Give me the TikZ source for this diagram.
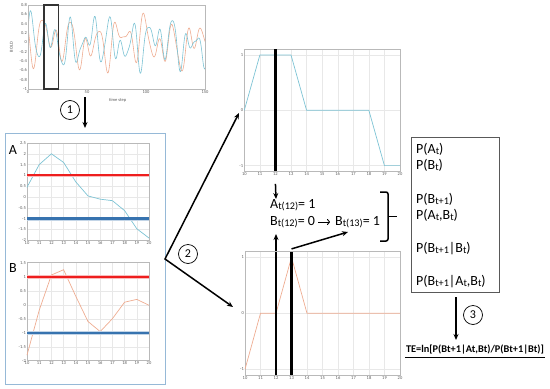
\documentclass[tikz,border=0pt]{standalone}
\usepackage{fontspec}
\setmainfont{Carlito}
\usepackage{tikz}
\usetikzlibrary{arrows.meta,calc}
\definecolor{seriescyan}{RGB}{125,195,212}
\definecolor{seriessalmon}{RGB}{238,172,145}
\definecolor{panelblue}{RGB}{150,185,215}
\definecolor{threshred}{RGB}{238,30,30}
\definecolor{threshblue}{RGB}{55,115,175}
\newcommand{\sm}[1]{\raisebox{-0.9pt}{\fontsize{10.2}{10}\selectfont #1}}

\begin{document}
\begin{tikzpicture}[x=1pt,y=-1pt,every node/.style={font=\fontsize{14}{16}\selectfont},
  arr/.style={-{Stealth[length=6pt,width=5pt]},line width=1.5pt},
  numcirc/.style={circle,draw,line width=0.7pt,minimum size=19pt,inner sep=0pt,font=\fontsize{12}{12}\selectfont},
  frame/.style={draw=gray!55,line width=0.5pt},
  gridln/.style={draw=gray!18,line width=0.4pt},
  tick/.style={font=\fontsize{4.5}{5}\selectfont,text=gray!70!black,inner sep=1pt},
  marker/.style={line width=2.6pt},
  redthr/.style={threshred,line width=2pt,preaction={draw=threshred!30,line width=3.8pt}},
  bluethr/.style={threshblue,line width=2.4pt,preaction={draw=threshblue!30,line width=4pt}}]
\useasboundingbox (0,0) rectangle (550,389);

% BOLD series
\begin{scope}[shift={(28,42.3)},x=1.18pt,y=46.67pt]
  \begin{scope}
    \clip (0,-1) rectangle (150,0.8);
    \draw[seriessalmon,line width=0.6pt] plot[domain=0:150,samples=400]
      (\x,{0.3*sin(29*\x+120)+0.25*sin(17*\x+200)+0.1*sin(45*\x+80)+0.12*sin(5*\x+10)});
    \draw[seriescyan,line width=0.6pt] plot[domain=0:150,samples=400]
      (\x,{0.3*sin(33*\x)+0.25*sin(21*\x+50)+0.1*sin(52*\x+20)+0.1*sin(7*\x+30)});
  \end{scope}
  \draw[frame] (0,-1) rectangle (150,0.8);
  \foreach \v [count=\i] in {0.8,0.6,0.4,0.2,0,-0.2,-0.4,-0.6,-0.8,-1}
    \node[tick,anchor=east] (boldy\i) at (0,\v) {\v};
  \foreach \t [count=\i] in {0,50,100,150}
    \node[tick,anchor=north] (boldx\i) at (\t,-1) {\t};
  \node[tick,rotate=90] (boldlab) at (-14,-0.1) {BOLD};
  \node[tick] (steplab) at (76,-1.25) {time step};
  \draw[black!80,line width=1.2pt] (13.5,-1) rectangle (26,0.8);
\end{scope}

\node[numcirc] (n1) at (70,110) {1};
\coordinate (a1s) at (85,97);
\coordinate (a1e) at (85,128);
\draw[arr] (a1s) -- (a1e);

% panel with A and B
\node[draw=panelblue,line width=1pt,minimum width=160pt,minimum height=251pt,anchor=north west,inner sep=0pt] (panel) at (5,133) {};
\node (labA) at (13,150) {A};
\node (labB) at (13,268) {B};

\begin{scope}[shift={(27,197)},x=12.2pt,y=21.6pt]
  \foreach \t in {1,...,9} \draw[gridln] (\t,-2) -- (\t,2.5);
  \foreach \v in {-1.5,-1,-0.5,0,0.5,1,1.5,2} \draw[gridln] (0,\v) -- (10,\v);
  \draw[frame] (0,-2) rectangle (10,2.5);
  \foreach \v [count=\i] in {2.5,2,1.5,1,0.5,0,-0.5,-1,-1.5,-2}
    \node[tick,anchor=east] (ay\i) at (0,\v) {\v};
  \foreach \t [count=\i] in {10,...,20}
    \node[tick,anchor=north] (ax\i) at (\t-10,-2) {\t};
  \draw[seriescyan,line width=0.7pt] (0,0.45) -- (1,1.5) -- (2,2) -- (3,1.6) -- (4,0.7) -- (5,0.05)
    -- (6,-0.1) -- (7,-0.17) -- (8,-0.63) -- (9,-1.47) -- (10,-1.9);
  \draw[redthr] (0,1) -- (10,1);
  \draw[bluethr] (0,-1) -- (10,-1);
\end{scope}

\begin{scope}[shift={(27,304.7)},x=12.2pt,y=28pt]
  \foreach \t in {1,...,9} \draw[gridln] (\t,-2) -- (\t,1.5);
  \foreach \v in {-1.5,-1,-0.5,0,0.5,1} \draw[gridln] (0,\v) -- (10,\v);
  \draw[frame] (0,-2) rectangle (10,1.5);
  \foreach \v [count=\i] in {1.5,1,0.5,0,-0.5,-1,-1.5,-2}
    \node[tick,anchor=east] (by\i) at (0,\v) {\v};
  \foreach \t [count=\i] in {10,...,20}
    \node[tick,anchor=north] (bx\i) at (\t-10,-2) {\t};
  \draw[seriessalmon,line width=0.7pt] (0,-1.8) -- (1,-0.2) -- (2,1.06) -- (3,1.25) -- (4,0.3) -- (5,-0.6)
    -- (6,-0.96) -- (7,-0.5) -- (8,0.09) -- (9,0.19) -- (10,-0.02);
  \draw[redthr] (0,1) -- (10,1);
  \draw[bluethr] (0,-1) -- (10,-1);
\end{scope}

% binarised series
\begin{scope}[shift={(244.3,110.3)},x=15.57pt,y=55.3pt]
  \foreach \t in {1,...,9} \draw[gridln] (\t,-1.1) -- (\t,1.1);
  \foreach \v in {-1,0,1} \draw[gridln] (0,\v) -- (10,\v);
  \draw[frame] (0,-1.1) rectangle (10,1.1);
  \foreach \v [count=\i] in {1,0,-1}
    \node[tick,anchor=east] (uy\i) at (0,\v) {\v};
  \foreach \t [count=\i] in {10,...,20}
    \node[tick,anchor=north] (ux\i) at (\t-10,-1.1) {\t};
  \draw[seriescyan,line width=0.7pt] (0,0) -- (1,1) -- (3,1) -- (4,0) -- (8,0) -- (9,-1) -- (10,-1);
  \draw[marker] (2,-1.1) -- (2,1.1);
  \coordinate (selA) at (2,-1.33);
\end{scope}

\begin{scope}[shift={(245,313.3)},x=15.5pt,y=56pt]
  \foreach \t in {1,...,9} \draw[gridln] (\t,-1.1) -- (\t,1.1);
  \foreach \v in {-1,0,1} \draw[gridln] (0,\v) -- (10,\v);
  \draw[frame] (0,-1.1) rectangle (10,1.1);
  \foreach \v [count=\i] in {1,0,-1}
    \node[tick,anchor=east] (ly\i) at (0,\v) {\v};
  \foreach \t [count=\i] in {10,...,20}
    \node[tick,anchor=north] (lx\i) at (\t-10,-1.1) {\t};
  \draw[seriessalmon,line width=0.7pt] (0,-1) -- (1,0) -- (2,0) -- (3,1) -- (4,0) -- (10,0);
  \draw[marker] (2,-1.1) -- (2,1.1);
  \draw[marker] (3,-1.1) -- (3,1.1);
  \coordinate (selB) at (2,1.12);
  \coordinate (selBn) at (3,1.15);
\end{scope}

% split arrows
\node[numcirc] (n2) at (188,254) {2};
\coordinate (fork) at (165,259);
\coordinate (topin) at (239,113);
\coordinate (botin) at (233,307);
\draw[arr,{Stealth[length=6pt,width=5pt]}-{Stealth[length=6pt,width=5pt]},line join=miter] (topin) -- (fork) -- (botin);

% states
\node[anchor=west,inner sep=1pt] (at12) at (269,205) {A\sm{t(12)}= 1};
\node[anchor=west,inner sep=1pt] (bt12) at (269,222) {B\sm{t(12)}= 0};
\node[anchor=west,inner sep=1pt] (bt13) at (334,222) {B\sm{t(13)}= 1};
\draw[-{To[length=3pt,width=6pt]},line width=0.9pt,shorten <=2pt,shorten >=4pt] (bt12) -- (bt13);
\coordinate (tipA) at (276,199);
\coordinate (tipB) at (276,234);
\coordinate (tipBn) at (348,232);
\draw[arr] (selA) -- (tipA);
\draw[arr] (selB) -- (tipB);
\draw[arr] (selBn) -- (tipBn);
\draw[line width=1.5pt,rounded corners=2pt] (380,192) -- (388,192) -- (388,241) -- (380,241);
\draw[line width=1.5pt] (388,216.5) -- (397,216.5);

% probabilities
\node[draw=gray!70!black,line width=0.7pt,minimum width=88.5pt,minimum height=155pt,anchor=north west,inner sep=0pt] (pbox) at (410.5,137.3) {};
\node[anchor=west,inner sep=0pt] (pa) at (416,149.5) {P(A\sm{t})};
\node[anchor=west,inner sep=0pt] (pb) at (416,165) {P(B\sm{t})};
\node[anchor=west,inner sep=0pt] (pbn) at (416,199.5) {P(B\sm{t+1})};
\node[anchor=west,inner sep=0pt] (pab) at (416,215) {P(A\sm{t},B\sm{t})};
\node[anchor=west,inner sep=0pt] (pcb) at (416,248.5) {P(B\sm{t+1}|B\sm{t})};
\node[anchor=west,inner sep=0pt] (pcab) at (416,282) {P(B\sm{t+1}|A\sm{t},B\sm{t})};

\node[numcirc] (n3) at (473,315) {3};
\node[font=\bfseries\fontsize{10.3}{12}\selectfont,inner sep=1pt] (te) at (475,350) {TE=ln[P(Bt+1|At,Bt)/P(Bt+1|Bt)]};
\coordinate (a3s) at (456,297);
\coordinate (a3e) at (456,340);
\draw[arr] (a3s) -- (a3e);
\draw[line width=1.5pt] ([yshift=-1.5pt]te.south west) -- ([yshift=-1.5pt]te.south east);
\end{tikzpicture}
\end{document}
